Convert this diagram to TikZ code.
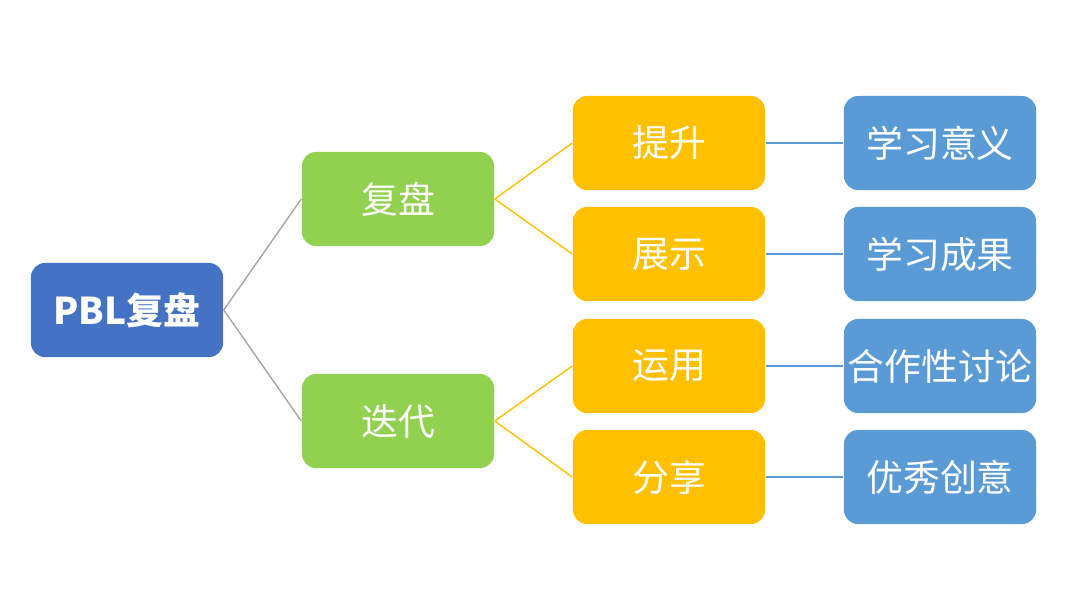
\documentclass[tikz,border=0pt]{standalone}
\usepackage{fontspec}
\newfontfamily\cjk{Noto Sans CJK SC}
\usetikzlibrary{positioning}
\definecolor{rootblue}{HTML}{4472C4}
\definecolor{leafgreen}{HTML}{92D050}
\definecolor{stepgold}{HTML}{FFC000}
\definecolor{itemblue}{HTML}{5B9BD5}
\tikzset{
    box/.style={rounded corners=4pt, minimum width=1.92cm, minimum height=0.94cm, text=white, font=\cjk\fontsize{10.5pt}{12pt}\selectfont, inner sep=0pt}, % common box
    rootbox/.style={box, fill=rootblue, font=\cjk\bfseries\fontsize{10.5pt}{12pt}\selectfont},
    midbox/.style={box, fill=leafgreen},
    stepbox/.style={box, fill=stepgold},
    itembox/.style={box, fill=itemblue},
}
\begin{document}
\begin{tikzpicture}[x=0.01cm, y=-0.01cm]
    \useasboundingbox (0,0) rectangle (1080,608);
    \node[rootbox] (root) at (127,310) {PBL复盘};
    \node[midbox] (fp) at (398,199) {复盘};
    \node[midbox] (dd) at (398,421) {迭代};
    \node[stepbox] (ts) at (669,143) {提升};
    \node[stepbox] (zs) at (669,254) {展示};
    \node[stepbox] (yy) at (669,366) {运用};
    \node[stepbox] (fx) at (669,477) {分享};
    \node[itembox] (yyi) at (940,143) {学习意义};
    \node[itembox] (cg) at (940,254) {学习成果};
    \node[itembox] (tl) at (940,366) {合作性讨论};
    \node[itembox] (cy) at (940,477) {优秀创意};
    % connectors
    \draw[gray!70] (root.east) -- (fp.west) (root.east) -- (dd.west);
    \draw[stepgold] (fp.east) -- (ts.west) (fp.east) -- (zs.west)
        (dd.east) -- (yy.west) (dd.east) -- (fx.west);
    \draw[itemblue] (ts) -- (yyi) (zs) -- (cg) (yy) -- (tl) (fx) -- (cy);
\end{tikzpicture}
\end{document}
